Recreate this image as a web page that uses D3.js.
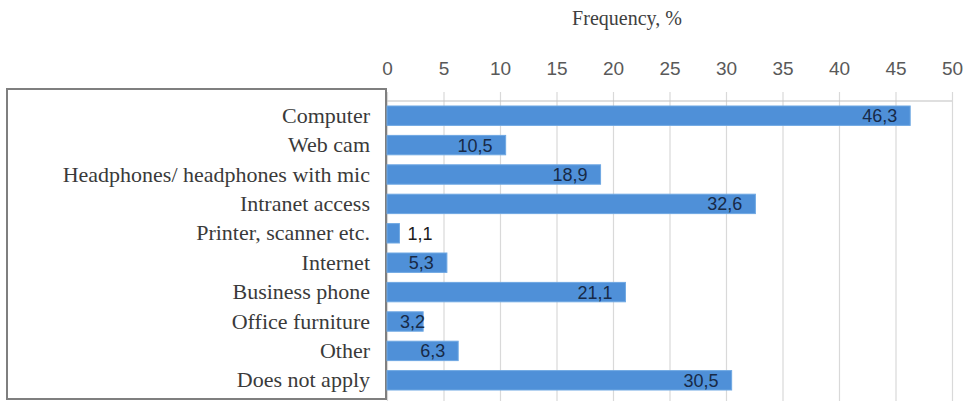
<!DOCTYPE html>
<html>
<head>
<meta charset="utf-8">
<script src="https://cdn.jsdelivr.net/npm/d3@7"></script>
</head>
<body style="margin:0">
<script>
const width = 967;
const height = 401;

// data
const categories = [
    "Computer", "Web cam", "Headphones/ headphones with mic", "Intranet access",
    "Printer, scanner etc.", "Internet", "Business phone", "Office furniture",
    "Other", "Does not apply"
];
const values = [46.3, 10.5, 18.9, 32.6, 1.1, 5.3, 21.1, 3.2, 6.3, 30.5];
const tickValues = [0, 5, 10, 15, 20, 25, 30, 35, 40, 45, 50];
const axisTitle = "Frequency, %";

const data = categories.map((c, i) => ({ name: c, value: values[i] }));

const svg = d3.select("body").append("svg")
    .attr("width", width)
    .attr("height", height);

svg.append("rect").attr("width", width).attr("height", height).attr("fill", "#fff");

const x = d3.scaleLinear()
    .domain([0, 50])
    .range([387, 952]);

const y = d3.scaleBand()
    .domain(categories)
    .range([101, 395])
    .paddingInner(0.34)
    .paddingOuter(0.17);

// gridlines
svg.append("g")
    .attr("transform", "translate(0, 92)")
    .call(d3.axisBottom(x).tickValues(tickValues).tickSize(height - 92).tickFormat(""))
    .call(g => g.select(".domain").remove())
    .call(g => g.selectAll("line").attr("stroke", "#d9d9d9").attr("stroke-width", 1.2));

// top border of plot area
svg.append("line")
    .attr("x1", x(0)).attr("x2", x(50))
    .attr("y1", 101).attr("y2", 101)
    .attr("stroke", "#bfbfbf")
    .attr("stroke-width", 1.2);

// tick labels
svg.append("g")
    .attr("transform", "translate(0, 75)")
    .call(d3.axisTop(x).tickValues(tickValues).tickSize(0).tickPadding(0))
    .call(g => g.select(".domain").remove())
    .call(g => g.selectAll("text")
        .attr("font-family", "Liberation Sans")
        .attr("font-size", 19)
        .attr("fill", "#595959"));

// axis title
svg.append("text")
    .attr("x", 627)
    .attr("y", 25)
    .attr("text-anchor", "middle")
    .attr("font-family", "Liberation Serif")
    .attr("font-size", 20)
    .attr("fill", "#404040")
    .text(axisTitle);

// label box
svg.append("rect")
    .attr("x", 7)
    .attr("y", 89)
    .attr("width", 379)
    .attr("height", 310)
    .attr("fill", "#fff")
    .attr("stroke", "#7f7f7f")
    .attr("stroke-width", 2);

// category labels
svg.append("g")
    .selectAll("text")
    .data(data)
    .enter()
    .append("text")
    .attr("x", 370)
    .attr("y", d => y(d.name) + y.bandwidth() / 2 + 7)
    .attr("text-anchor", "end")
    .attr("font-family", "Liberation Serif")
    .attr("font-size", 22)
    .attr("fill", "#3a3a3a")
    .text(d => d.name);

// bars
svg.append("g")
    .selectAll("rect")
    .data(data)
    .enter()
    .append("rect")
    .attr("x", x(0))
    .attr("y", d => y(d.name))
    .attr("width", d => x(d.value) - x(0))
    .attr("height", y.bandwidth())
    .attr("fill", "#4f90d8")
    .attr("stroke", "#6fa8e3")
    .attr("stroke-width", 1);

// value labels
const fmt = v => String(v).replace(".", ",");
const labels = svg.append("g")
    .selectAll("text")
    .data(data)
    .enter()
    .append("text")
    .attr("y", d => y(d.name) + y.bandwidth() / 2 + 6.5)
    .attr("font-family", "Liberation Sans")
    .attr("font-size", 18)
    .text(d => fmt(d.value));

labels.each(function(d) {
    const t = d3.select(this);
    const w = this.getComputedTextLength();
    const barW = x(d.value) - x(0);
    if (barW < 20) {
        t.attr("x", x(d.value) + 8).attr("fill", "#1a1a1a");
    } else {
        let start = x(d.value) - 13 - w;
        if (start < x(0) + 13) start = x(0) + 13;
        t.attr("x", start).attr("fill", "#172a47");
    }
});
</script>
</body>
</html>
